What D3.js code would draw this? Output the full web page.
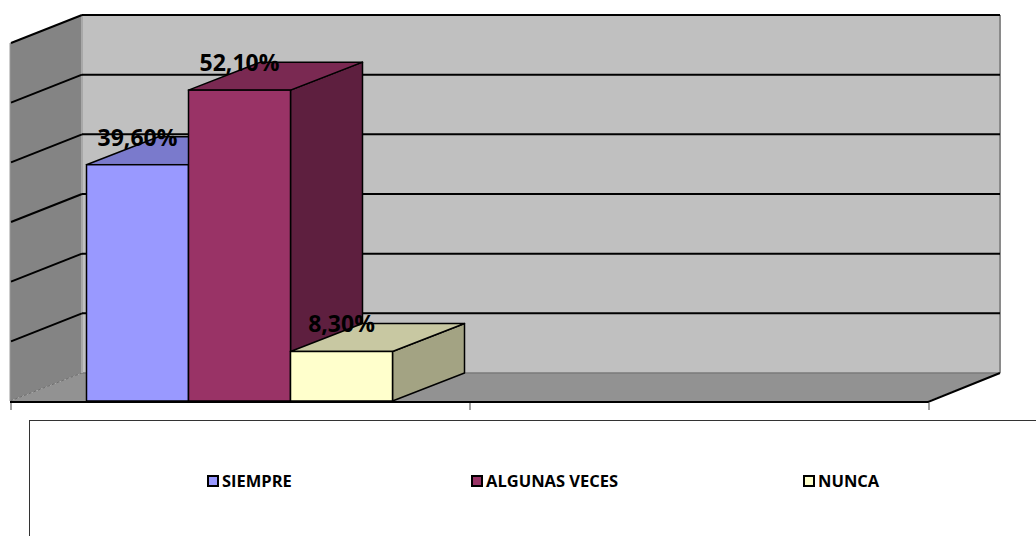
<!DOCTYPE html>
<html>
<head>
<meta charset="utf-8">
<script src="https://cdn.jsdelivr.net/npm/d3@7"></script>
<style>
  body { margin: 0; background: #fff; }
  svg { display: block; }
</style>
</head>
<body>
<div id="chart"></div>
<script>
// data
var categories = ["Respuesta", ""];
var series = ["SIEMPRE", "ALGUNAS VECES", "NUNCA"];
var values = [39.6, 52.1, 8.3];
var valueLabels = ["39,60%", "52,10%", "8,30%"];
var yTicks = [0, 10, 20, 30, 40, 50, 60];

var W = 1036, H = 536;
var depth = {x: 72, y: -28};

var faceColor = ["#9999ff", "#993366", "#ffffcc"];
var topColor  = ["#7a7acc", "#7a2952", "#c8c8a2"];
var sideColor = ["#5c5c99", "#5e1f3f", "#a3a383"];

var svg = d3.select("#chart").append("svg")
    .attr("width", W)
    .attr("height", H);

var x0 = d3.scaleBand()
    .domain(categories)
    .range([10, 928])
    .paddingInner(0)
    .paddingOuter(0);

var x1 = d3.scaleBand()
    .domain(series)
    .range([0, x0.bandwidth()])
    .paddingInner(0)
    .paddingOuter(0.75);

var y = d3.scaleLinear()
    .domain([0, 60])
    .range([401, 43]);

var xL = x0.range()[0], xR = x0.range()[1];
var yT = y(60), yB = y(0);

function poly(points) { return points.map(function(p) { return p[0] + "," + p[1]; }).join(" "); }

// back wall
svg.append("polygon")
    .attr("points", poly([
        [xL + depth.x, yT + depth.y], [xR + depth.x, yT + depth.y],
        [xR + depth.x, yB + depth.y], [xL + depth.x, yB + depth.y]]))
    .attr("fill", "#c0c0c0");

// left wall
svg.append("polygon")
    .attr("points", poly([
        [xL, yT], [xL + depth.x, yT + depth.y],
        [xL + depth.x, yB + depth.y], [xL, yB]]))
    .attr("fill", "#848484");

// floor
svg.append("polygon")
    .attr("points", poly([
        [xL, yB], [xL + depth.x, yB + depth.y],
        [xR + depth.x, yB + depth.y], [xR, yB]]))
    .attr("fill", "#929292");

// floor back edge + left wall bottom edge
svg.append("line")
    .attr("x1", xL + depth.x).attr("y1", yB + depth.y)
    .attr("x2", xR + depth.x).attr("y2", yB + depth.y)
    .attr("stroke", "#7a7a7a").attr("stroke-width", 1.5);
svg.append("line")
    .attr("x1", xL).attr("y1", yB)
    .attr("x2", xL + depth.x).attr("y2", yB + depth.y)
    .attr("stroke", "#6e6e6e").attr("stroke-width", 1)
    .attr("stroke-dasharray", "3,2");
svg.append("line")
    .attr("x1", xL + depth.x).attr("y1", yT + depth.y)
    .attr("x2", xL + depth.x).attr("y2", yB + depth.y)
    .attr("stroke", "#a8a8a8").attr("stroke-width", 2);

// right edge of back wall
svg.append("line")
    .attr("x1", xR + depth.x).attr("y1", yT + depth.y)
    .attr("x2", xR + depth.x).attr("y2", yB + depth.y)
    .attr("stroke", "#8a8a8a").attr("stroke-width", 2);

// gridlines (back wall + left wall)
var grid = yTicks.filter(function(d) { return d > 0; });
svg.selectAll(".gridBack")
    .data(grid)
    .enter().append("line")
    .attr("class", "gridBack")
    .attr("x1", xL + depth.x).attr("x2", xR + depth.x)
    .attr("y1", d => y(d) + depth.y).attr("y2", d => y(d) + depth.y)
    .attr("stroke", "#000").attr("stroke-width", 2);

svg.selectAll(".gridSide")
    .data(grid)
    .enter().append("line")
    .attr("class", "gridSide")
    .attr("x1", xL + 1).attr("x2", xL + depth.x)
    .attr("y1", d => y(d)).attr("y2", d => y(d) + depth.y)
    .attr("stroke", "#000").attr("stroke-width", 2);

// left wall front edge
svg.append("line")
    .attr("x1", xL).attr("y1", yT)
    .attr("x2", xL).attr("y2", yB)
    .attr("stroke", "#9a9a9a").attr("stroke-width", 1);

// floor front & right edge
svg.append("polyline")
    .attr("points", poly([[xL, yB + 1], [xR, yB + 1], [xR + depth.x, yB + depth.y]]))
    .attr("fill", "none")
    .attr("stroke", "#000").attr("stroke-width", 2);

// category axis ticks
var tickX = [xL].concat(categories.map(function(c) { return x0(c) + x0.bandwidth(); }));
svg.selectAll(".tick")
    .data(tickX)
    .enter().append("line")
    .attr("class", "tick")
    .attr("x1", d => d + 1).attr("x2", d => d + 1)
    .attr("y1", yB + 2).attr("y2", yB + 9)
    .attr("stroke", "#444").attr("stroke-width", 1);

// bars
var bars = series.map(function(s, i) {
    var xa = x0(categories[0]) + x1(s);
    return {i: i, x: xa, w: x1.bandwidth(), yt: y(values[i]), yb: y(0)};
});

bars.forEach(function(b) {
    var g = svg.append("g");
    // side
    g.append("polygon")
        .attr("points", poly([
            [b.x + b.w, b.yt], [b.x + b.w + depth.x, b.yt + depth.y],
            [b.x + b.w + depth.x, b.yb + depth.y], [b.x + b.w, b.yb]]))
        .attr("fill", sideColor[b.i])
        .attr("stroke", "#000").attr("stroke-width", 1.5)
        .attr("stroke-linejoin", "round");
    // top
    g.append("polygon")
        .attr("points", poly([
            [b.x, b.yt], [b.x + depth.x, b.yt + depth.y],
            [b.x + b.w + depth.x, b.yt + depth.y], [b.x + b.w, b.yt]]))
        .attr("fill", topColor[b.i])
        .attr("stroke", "#000").attr("stroke-width", 1.5)
        .attr("stroke-linejoin", "round");
    // front
    g.append("rect")
        .attr("x", b.x).attr("y", b.yt)
        .attr("width", b.w).attr("height", b.yb - b.yt)
        .attr("fill", faceColor[b.i])
        .attr("stroke", "#000").attr("stroke-width", 1.5);
});

// value labels
svg.selectAll(".vlabel")
    .data(bars)
    .enter().append("text")
    .attr("class", "vlabel")
    .attr("x", d => d.x + d.w / 2)
    .attr("y", d => d.yt - 19)
    .attr("text-anchor", "middle")
    .style("font-family", "'Open Sans', 'Liberation Sans', Arial, sans-serif")
    .style("font-weight", "bold")
    .style("font-size", "23px")
    .attr("fill", "#000")
    .text(d => valueLabels[d.i]);

// legend
svg.append("rect")
    .attr("x", 29.5).attr("y", 420.5)
    .attr("width", 1020).attr("height", 130)
    .attr("fill", "#fff")
    .attr("stroke", "#333").attr("stroke-width", 1);

var legendX = [207, 471, 803];
var leg = svg.selectAll(".legend")
    .data(series)
    .enter().append("g")
    .attr("class", "legend")
    .attr("transform", (d, i) => "translate(" + legendX[i] + ",475)");

leg.append("rect")
    .attr("x", 1).attr("y", 1)
    .attr("width", 10).attr("height", 10)
    .attr("fill", (d, i) => faceColor[i])
    .attr("stroke", "#000").attr("stroke-width", 2);

leg.append("text")
    .attr("x", 15).attr("y", 12)
    .style("font-family", "'Open Sans', 'Liberation Sans', Arial, sans-serif")
    .style("font-weight", "bold")
    .style("font-size", "16.5px")
    .attr("fill", "#000")
    .text(d => d);
</script>
</body>
</html>
